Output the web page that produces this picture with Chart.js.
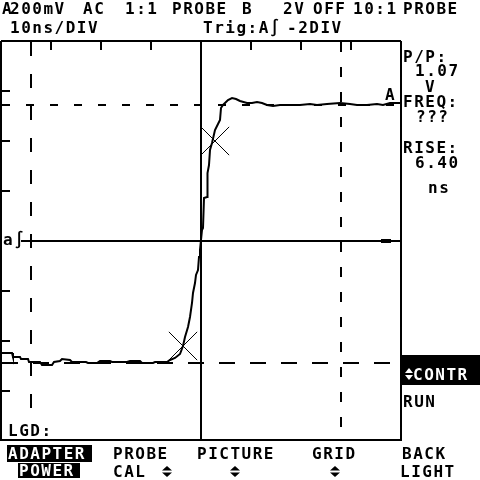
<!DOCTYPE html>
<html>
<head>
<meta charset="utf-8">
<script src="https://cdn.jsdelivr.net/npm/chart.js@4/dist/chart.umd.min.js"></script>
<style>
  html, body { margin: 0; padding: 0; background: #fff; }
  canvas { display: block; }
</style>
</head>
<body>
<canvas id="scope" width="480" height="480"></canvas>
<script>
// trace: time in ns (0 = centre), level in volts (200mV/DIV)
const timeNs = [
  -40, -37.8, -37.6, -36.2, -36, -34.6, -34.4, -32.2, -31.8, -29.8, -29.4, -28.2,
  -27.8, -26.2, -25.8, -23, -22.6, -20.8, -20.2, -18.2, -17.8, -14.8, -14.2, -12.2,
  -11.8, -9.6, -9.2, -6.8, -6.2, -5.2, -4.2, -3.6, -3.2, -2.6, -2.2, -1.8, -1.6,
  -1.2, -1.0, -0.6, -0.4, -0.2, 0.2, 0.4, 0.6, 1.2, 1.3, 1.6, 1.8, 2.2, 2.8, 3.4,
  3.8, 4.0, 4.4, 5.4, 6.2, 7.0, 7.8, 9.2, 10.2, 11.2, 12.2, 13.2, 14.4, 15.8, 17.2,
  19.8, 21.8, 23.2, 25.2, 27.8, 29.8, 31.2, 33.2, 35.2, 36.4, 37.8, 39.8
];
const voltsV = [
  -0.448, -0.448, -0.464, -0.464, -0.472, -0.472, -0.484, -0.484, -0.496, -0.496, -0.484, -0.48,
  -0.472, -0.476, -0.484, -0.484, -0.488, -0.488, -0.48, -0.48, -0.484, -0.484, -0.48, -0.48,
  -0.488, -0.488, -0.484, -0.484, -0.476, -0.468, -0.452, -0.42, -0.384, -0.344, -0.304, -0.248, -0.208,
  -0.168, -0.136, -0.116, -0.064, -0.036, 0.044, 0.052, 0.172, 0.176, 0.272, 0.304, 0.364, 0.392, 0.444, 0.468,
  0.484, 0.532, 0.544, 0.564, 0.572, 0.568, 0.56, 0.552, 0.552, 0.556, 0.552, 0.544, 0.54, 0.544, 0.544,
  0.544, 0.548, 0.544, 0.548, 0.552, 0.548, 0.544, 0.544, 0.548, 0.544, 0.552, 0.552
];

// rise time markers (10% / 90%)
const markerTimes = [-3.6, 2.8];
const markerVolts = [-0.42, 0.40];

// dashed cursors
const cursorTimes = [-34, 28];
const cursorLevels = [0.544, -0.488];

// graticule ticks
const xTicks = [-30, -20, -10, 10, 20, 30];
const yTicks = [-0.6, -0.4, -0.2, 0.2, 0.4, 0.6];

const FONT = 'bold 16px "DejaVu Sans Mono", "Liberation Mono", monospace';

function upDown(ctx, cx, top, w, h, color) {
  ctx.fillStyle = color;
  ctx.beginPath();
  ctx.moveTo(cx, top);
  ctx.lineTo(cx + w / 2, top + h / 2 - 1);
  ctx.lineTo(cx - w / 2, top + h / 2 - 1);
  ctx.closePath();
  ctx.fill();
  ctx.beginPath();
  ctx.moveTo(cx, top + h);
  ctx.lineTo(cx + w / 2, top + h / 2 + 1);
  ctx.lineTo(cx - w / 2, top + h / 2 + 1);
  ctx.closePath();
  ctx.fill();
}

const scopePlugin = {
  id: 'scope',
  beforeDraw(chart) {
    const ctx = chart.ctx;
    ctx.save();
    ctx.fillStyle = '#fff';
    ctx.fillRect(0, 0, chart.width, chart.height);
    ctx.restore();
  },
  beforeDatasetsDraw(chart) {
    const ctx = chart.ctx;
    const a = chart.chartArea;
    const xs = chart.scales.x, ys = chart.scales.y;
    const cx = Math.round(xs.getPixelForValue(0));
    const cy = Math.round(ys.getPixelForValue(0));
    ctx.save();
    ctx.strokeStyle = '#000';

    // centre cross
    ctx.lineWidth = 2;
    ctx.beginPath();
    ctx.moveTo(cx, a.top); ctx.lineTo(cx, a.bottom);
    ctx.moveTo(a.left + 20, cy); ctx.lineTo(a.right, cy);
    ctx.stroke();

    // ticks on top and left border
    ctx.beginPath();
    xTicks.forEach(t => {
      const x = Math.round(xs.getPixelForValue(t));
      ctx.moveTo(x, a.top); ctx.lineTo(x, a.top + 9);
    });
    yTicks.forEach(v => {
      const y = Math.round(ys.getPixelForValue(v));
      ctx.moveTo(a.left, y); ctx.lineTo(a.left + 9, y);
    });
    ctx.stroke();

    // dashed cursors
    ctx.lineWidth = 2;
    const hDash = [[8, 16], [16, 15]];
    cursorLevels.forEach((v, i) => {
      const y = Math.round(ys.getPixelForValue(v));
      ctx.setLineDash(hDash[i]);
      ctx.beginPath();
      ctx.moveTo(a.left + 1, y); ctx.lineTo(a.right, y);
      ctx.stroke();
    });
    const vDash = [[14, 18], [10, 15]];
    cursorTimes.forEach((t, i) => {
      const x = Math.round(xs.getPixelForValue(t));
      ctx.setLineDash(vDash[i]);
      ctx.beginPath();
      ctx.moveTo(x, a.top + 1); ctx.lineTo(x, a.bottom);
      ctx.stroke();
    });
    ctx.setLineDash([]);

    // trigger level block
    ctx.fillStyle = '#000';
    ctx.fillRect(a.right - 20, cy - 2, 10, 4);

    // legend row blanks the graticule behind its label
    ctx.fillStyle = '#fff';
    ctx.fillRect(a.left + 2, a.bottom - 19, 48, 17);
    ctx.restore();
  },
  afterDatasetsDraw(chart) {
    const ctx = chart.ctx;
    const a = chart.chartArea;
    ctx.save();
    ctx.strokeStyle = '#000';
    ctx.lineWidth = 2;
    ctx.beginPath();
    ctx.moveTo(a.left, a.top); ctx.lineTo(a.right, a.top);
    ctx.moveTo(a.left, a.top); ctx.lineTo(a.left, a.bottom);
    ctx.moveTo(a.right, a.top); ctx.lineTo(a.right, a.bottom);
    ctx.moveTo(a.left, a.bottom - 1); ctx.lineTo(a.right, a.bottom - 1);
    ctx.stroke();

    ctx.font = FONT;
    ctx.letterSpacing = '1.5px';
    ctx.textBaseline = 'alphabetic';
    ctx.fillStyle = '#000';
    const t = (s, x, y) => ctx.fillText(s, x, y);

    // header
    t('A', 2, 14);
    t('200mV', 10, 14);
    t('AC', 83, 14);
    t('1:1', 125, 14);
    t('PROBE', 172, 14);
    t('B', 242, 14);
    t('2V', 283, 14);
    t('OFF', 313, 14);
    t('10:1', 353, 14);
    t('PROBE', 403, 14);
    t('10ns/DIV', 10, 33);
    t('Trig:A\u222B', 203, 33);
    t('-2DIV', 287, 33);

    // inside the graticule
    t('a\u222B', 3, 245);
    t('A', 385, 100);
    t('LGD:', 8, 436);

    // readings on the right
    t('P/P:', 403, 62);
    t('1.07', 415, 76);
    t('V', 425, 92);
    t('FREQ:', 403, 107);
    t('???', 416, 122);
    t('RISE:', 403, 153);
    t('6.40', 415, 168);
    t('ns', 428, 193);

    ctx.fillRect(402, 355, 78, 30);
    upDown(ctx, 409, 368, 8, 12, '#fff');
    ctx.fillStyle = '#fff';
    t('CONTR', 413, 380);
    ctx.fillStyle = '#000';
    t('RUN', 403, 407);

    // soft key menu
    ctx.fillRect(7, 445, 85, 17);
    ctx.fillRect(18, 463, 62, 15);
    ctx.fillStyle = '#fff';
    t('ADAPTER', 8, 459);
    t('POWER', 19, 476);
    ctx.fillStyle = '#000';
    t('PROBE', 113, 459);
    t('CAL', 113, 477);
    upDown(ctx, 167, 466, 10, 11, '#000');
    t('PICTURE', 197, 459);
    upDown(ctx, 235, 466, 10, 11, '#000');
    t('GRID', 312, 459);
    upDown(ctx, 335, 466, 10, 11, '#000');
    t('BACK', 402, 459);
    t('LIGHT', 400, 477);
    ctx.restore();
  }
};

new Chart(document.getElementById('scope'), {
  type: 'line',
  data: {
    datasets: [
      {
        label: 'A',
        data: timeNs.map((x, i) => ({ x, y: voltsV[i] })),
        borderColor: '#000',
        borderWidth: 2,
        pointRadius: 0,
        tension: 0,
        fill: false
      },
      {
        label: 'rise markers',
        data: markerTimes.map((x, i) => ({ x, y: markerVolts[i] })),
        showLine: false,
        pointStyle: 'crossRot',
        pointRadius: 20,
        borderColor: '#000',
        borderWidth: 1,
        backgroundColor: '#000'
      }
    ]
  },
  options: {
    responsive: false,
    animation: false,
    devicePixelRatio: 1,
    layout: { autoPadding: false, padding: { left: 1, top: 41, right: 79, bottom: 39 } },
    plugins: { legend: { display: false }, tooltip: { enabled: false }, title: { display: false } },
    scales: {
      x: { type: 'linear', min: -40, max: 40, display: false },
      y: { type: 'linear', min: -0.8, max: 0.8, display: false }
    }
  },
  plugins: [scopePlugin]
});
</script>
</body>
</html>
